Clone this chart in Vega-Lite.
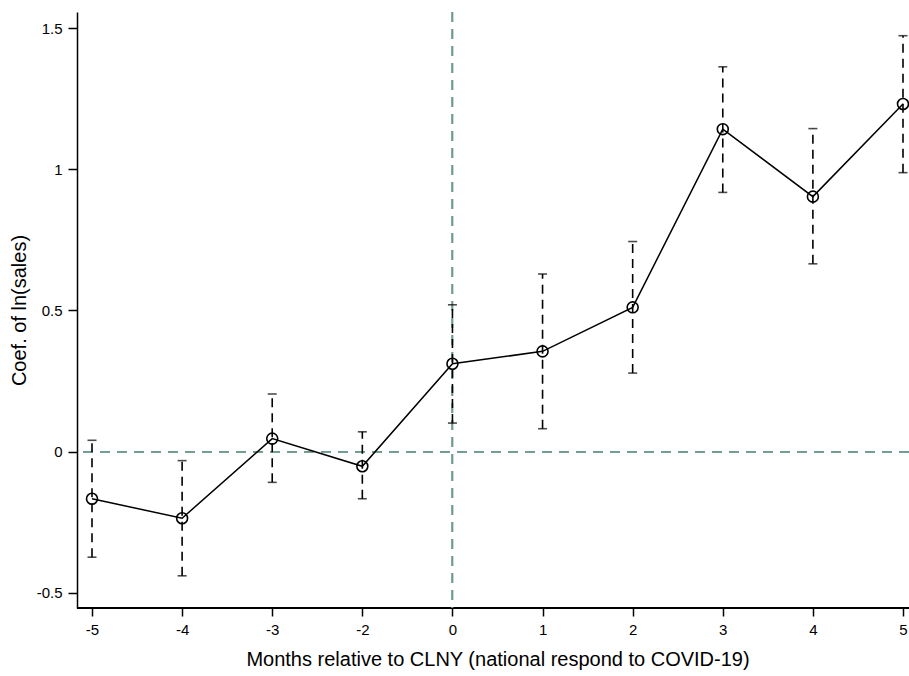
{
  "$schema": "https://vega.github.io/schema/vega-lite/v6.json",
  "width": 832,
  "height": 596,
  "autosize": {"type": "none"},
  "padding": {"left": 77, "top": 12, "right": 0, "bottom": 68},
  "background": "white",
  "config": {
    "view": {"stroke": null},
    "font": "Liberation Sans",
    "axis": {"grid": false, "domainColor": "black", "tickColor": "black", "labelColor": "black", "titleColor": "black", "labelFont": "Liberation Sans", "titleFont": "Liberation Sans", "titleFontWeight": "normal", "labelFontSize": 15, "titleFontSize": 20, "tickSize": 9, "domainWidth": 1.5, "tickWidth": 1.5}
  },
  "data": {
    "values": [
      {"month": "-5", "coef": -0.167, "lo": -0.374, "hi": 0.040},
      {"month": "-4", "coef": -0.236, "lo": -0.440, "hi": -0.032},
      {"month": "-3", "coef": 0.046, "lo": -0.109, "hi": 0.204},
      {"month": "-2", "coef": -0.052, "lo": -0.167, "hi": 0.070},
      {"month": "0", "coef": 0.311, "lo": 0.101, "hi": 0.520},
      {"month": "1", "coef": 0.355, "lo": 0.081, "hi": 0.629},
      {"month": "2", "coef": 0.511, "lo": 0.278, "hi": 0.744},
      {"month": "3", "coef": 1.142, "lo": 0.918, "hi": 1.363},
      {"month": "4", "coef": 0.903, "lo": 0.665, "hi": 1.144},
      {"month": "5", "coef": 1.231, "lo": 0.988, "hi": 1.473}
    ]
  },
  "encoding": {
    "x": {
      "field": "month", "type": "ordinal",
      "scale": {"type": "point", "domain": ["-5","-4","-3","-2","0","1","2","3","4","5"], "range": [15, 826], "padding": 0},
      "axis": {"title": "Months relative to CLNY (national respond to COVID-19)", "labelAngle": 0, "labelPadding": 6, "titlePadding": 12, "domain": false, "tickSize": 8}
    }
  },
  "layer": [
    {
      "mark": {"type": "rule", "color": "black", "strokeWidth": 1.5},
      "encoding": {"y": {"datum": -0.554, "type": "quantitative"}, "x": null}
    },
    {
      "mark": {"type": "rule", "color": "#6f9a92", "strokeWidth": 1.2, "strokeDash": [10, 7]},
      "encoding": {"y": {"datum": 0, "type": "quantitative"}, "x": null}
    },
    {
      "mark": {"type": "rule", "color": "#6f9a92", "strokeWidth": 1.2, "strokeDash": [10, 7]},
      "encoding": {"x": {"datum": "0", "type": "ordinal"}}
    },
    {
      "mark": {"type": "rule", "color": "black", "strokeWidth": 1.6, "strokeDash": [9, 6]},
      "encoding": {
        "y": {"field": "lo", "type": "quantitative"},
        "y2": {"field": "hi"}
      }
    },
    {
      "mark": {"type": "tick", "color": "black", "size": 9, "thickness": 1.6, "orient": "horizontal"},
      "encoding": {"y": {"field": "lo", "type": "quantitative"}}
    },
    {
      "mark": {"type": "tick", "color": "black", "size": 9, "thickness": 1.6, "orient": "horizontal"},
      "encoding": {"y": {"field": "hi", "type": "quantitative"}}
    },
    {
      "mark": {"type": "line", "color": "black", "strokeWidth": 1.5},
      "encoding": {"y": {"field": "coef", "type": "quantitative"}}
    },
    {
      "mark": {"type": "point", "shape": "circle", "filled": false, "color": "black", "size": 120, "strokeWidth": 1.6, "opacity": 1},
      "encoding": {
        "y": {
          "field": "coef", "type": "quantitative",
          "scale": {"domain": [-0.554, 1.557], "nice": false, "zero": false},
          "axis": {"title": "Coef. of ln(sales)", "values": [-0.5, 0, 0.5, 1, 1.5], "labelExpr": "toString(datum.value)", "labelPadding": 6, "titlePadding": 7}
        }
      }
    }
  ]
}
